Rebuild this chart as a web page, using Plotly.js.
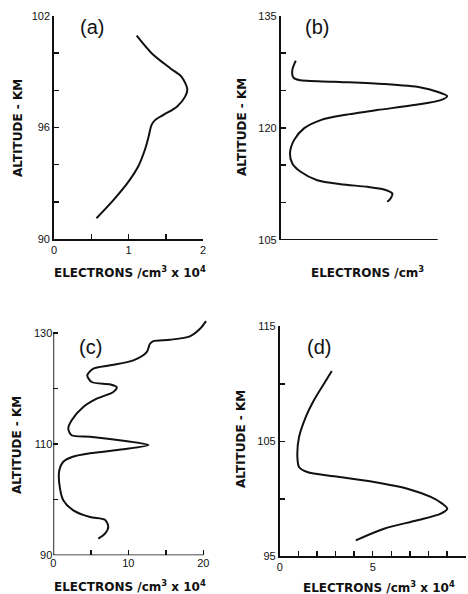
<!DOCTYPE html>
<html>
<head>
<meta charset="utf-8">
<script src="https://cdn.plot.ly/plotly-3.0.1.min.js"></script>
<style>html,body{margin:0;padding:0;background:#fff;}#chart{width:468px;height:594px;}</style>
</head>
<body>
<div id="chart"></div>
<script>
// Panel (a)
var aAltitude = [100.94, 100.0, 99.19, 98.74, 98.06, 97.66, 97.12, 96.68, 96.41, 96.14, 95.51, 94.80, 93.90, 93.09, 92.11, 91.12];
var aElectrons = [1.11, 1.31, 1.56, 1.71, 1.79, 1.76, 1.65, 1.47, 1.36, 1.31, 1.27, 1.22, 1.13, 1.00, 0.80, 0.57];
// Panel (b)
var bAltitude = [128.98, 127.73, 126.75, 126.39, 126.17, 125.86, 125.41, 124.83, 124.25, 123.71, 123.05, 122.38, 121.71, 121.04, 119.93, 118.36, 116.58, 115.24, 114.12, 113.0, 112.47, 112.11, 111.76, 111.22, 110.55, 110.1];
var bElectrons = [0.96, 0.74, 0.80, 1.17, 3.39, 6.58, 8.92, 9.97, 10.6, 10.19, 8.49, 6.15, 4.03, 2.55, 1.48, 0.85, 0.59, 0.74, 1.27, 2.33, 3.82, 5.52, 6.58, 7.11, 7.0, 6.79];
// Panel (c)
var cAltitude = [132.16, 130.77, 129.4, 128.8, 128.56, 128.08, 126.58, 125.09, 124.19, 123.58, 122.39, 121.19, 120.77, 120.29, 119.39, 118.18, 116.69, 114.30, 112.79, 111.6, 111.34, 110.62, 109.84, 109.07, 108.35, 107.7, 106.8, 105.3, 102.9, 99.9, 98.1, 96.9, 96.4, 95.1, 93.9, 93.0];
var cElectrons = [20.36, 19.56, 18.2, 15.56, 13.33, 12.89, 12.45, 10.67, 7.56, 5.33, 4.53, 5.12, 7.56, 8.45, 8.0, 5.79, 4.0, 2.45, 2.0, 2.45, 4.89, 9.33, 12.67, 9.33, 4.89, 2.5, 1.3, 0.8, 0.8, 1.33, 2.67, 4.89, 6.89, 7.33, 6.89, 6.0];
// Panel (d)
var dAltitude = [111.11, 110.01, 108.57, 107.11, 105.37, 103.63, 102.77, 102.33, 101.96, 101.46, 100.88, 100.16, 99.58, 99.14, 98.71, 98.13, 97.40, 96.39];
var dElectrons = [2.80, 2.38, 1.84, 1.40, 1.04, 0.95, 1.04, 1.48, 2.92, 5.07, 6.86, 8.12, 8.74, 9.01, 8.66, 7.40, 5.61, 4.09];

// Labelled ticks and unlabelled (minor) ticks
var aXTicks = [0, 1, 2], aXMinor = [0.5, 1.5];
var aYTicks = [90, 96, 102], aYMinor = [92, 94, 98, 100];
var bYTicks = [105, 120, 135], bYMinor = [110, 115, 125, 130];
var cXTicks = [0, 10, 20], cXMinor = [5, 15];
var cYTicks = [90, 110, 130], cYMinor = [100, 120];
var dXTicks = [0, 5, 10], dXMinor = [1, 2, 3, 4, 6, 7, 8, 9];
var dYTicks = [95, 105, 115], dYMinor = [100, 110];

var panelLabels = ['(a)', '(b)', '(c)', '(d)'];
var yTitle = 'ALTITUDE - KM';
var xTitleScaled = 'ELECTRONS /cm<sup>3</sup> x 10<sup>4</sup>';
var xTitlePlain = 'ELECTRONS /cm<sup>3</sup>';

var W = 468, H = 594;
function px(x) { return x / W; }
function py(y) { return 1 - y / H; }

var lineStyle = {color: '#111', width: 2, shape: 'spline', smoothing: 0.8};
var traces = [
  {x: aElectrons, y: aAltitude, xaxis: 'x', yaxis: 'y', mode: 'lines', line: lineStyle},
  {x: bElectrons, y: bAltitude, xaxis: 'x2', yaxis: 'y2', mode: 'lines', line: lineStyle},
  {x: cElectrons, y: cAltitude, xaxis: 'x3', yaxis: 'y3', mode: 'lines', line: lineStyle},
  {x: dElectrons, y: dAltitude, xaxis: 'x4', yaxis: 'y4', mode: 'lines', line: lineStyle}
];

var tickFont = {family: 'Liberation Sans, Arial, sans-serif', size: 11, color: '#111'};
function axis(extra, minorVals) {
  var base = {
    showgrid: false, zeroline: false, showline: true, linecolor: '#111', linewidth: 1.8,
    ticks: 'inside', ticklen: 5, tickwidth: 1.5, tickcolor: '#111',
    tickmode: 'array', tickfont: tickFont, fixedrange: true, mirror: false
  };
  if (minorVals) {
    base.minor = {tickmode: 'array', tickvals: minorVals, ticks: 'inside', ticklen: 5, tickwidth: 1.5, tickcolor: '#111', showgrid: false};
  }
  for (var k in extra) base[k] = extra[k];
  return base;
}

var layout = {
  width: W, height: H,
  margin: {l: 0, r: 0, t: 0, b: 0},
  paper_bgcolor: '#fff', plot_bgcolor: 'rgba(0,0,0,0)',
  showlegend: false,
  xaxis: axis({domain: [px(54), px(203)], range: [0, 2], tickvals: aXTicks, anchor: 'y'}, aXMinor),
  yaxis: axis({domain: [py(239), py(16)], range: [90, 102], tickvals: aYTicks, anchor: 'x'}, aYMinor),
  xaxis2: axis({domain: [px(280.7), px(280.7 + 11 * 15.7)], range: [0, 11], showline: false, ticks: '', showticklabels: false, anchor: 'y2'}),
  yaxis2: axis({domain: [py(240), py(15.7)], range: [105, 135], tickvals: bYTicks, anchor: 'x2'}, bYMinor),
  xaxis3: axis({domain: [px(53.3), px(53.3 + 20.6 * 7.5)], range: [0, 20.6], showline: false, tickvals: cXTicks, anchor: 'y3'}, cXMinor),
  yaxis3: axis({domain: [py(555.3), py(555.3 - 42.5 * 5.556)], range: [90, 132.5], showline: false, tickvals: cYTicks, anchor: 'x3'}, cYMinor),
  xaxis4: axis({domain: [px(279.7), px(465.7)], range: [0, 10], tickvals: dXTicks, anchor: 'y4'}, dXMinor),
  yaxis4: axis({domain: [py(556.3), py(326.3)], range: [95, 115], tickvals: dYTicks, anchor: 'x4'}, dYMinor),
  shapes: [
    {type: 'line', xref: 'x2', yref: 'y2', x0: 0, x1: 10, y0: 105, y1: 105, line: {color: '#111', width: 1.8}},
    {type: 'line', xref: 'x3', yref: 'y3', x0: 0, x1: 20, y0: 90, y1: 90, line: {color: '#111', width: 1.8}},
    {type: 'line', xref: 'x3', yref: 'y3', x0: 0, x1: 0, y0: 90, y1: 130, line: {color: '#111', width: 1.8}}
  ],
  annotations: []
};

var titleFont = {family: 'DejaVu Sans, sans-serif', size: 12, color: '#111', weight: 'bold'};
var labelFont = {family: 'Liberation Sans, Arial, sans-serif', size: 20, color: '#111'};
function ann(text, x, y, font, angle) {
  layout.annotations.push({text: text, xref: 'paper', yref: 'paper', x: px(x), y: py(y),
    xanchor: 'center', yanchor: 'middle', showarrow: false, font: font, textangle: angle || 0});
}
ann(panelLabels[0], 92, 27, labelFont);
ann(panelLabels[1], 317, 27, labelFont);
ann(panelLabels[2], 90, 347, labelFont);
ann(panelLabels[3], 319, 347, labelFont);
ann(yTitle, 18, 128, titleFont, -90);
ann(yTitle, 242, 127, titleFont, -90);
ann(yTitle, 17, 445, titleFont, -90);
ann(yTitle, 241, 439, titleFont, -90);
ann(xTitleScaled, 130, 272.5, titleFont);
ann(xTitlePlain, 367, 272.5, titleFont);
ann(xTitleScaled, 130, 585.5, titleFont);
ann(xTitleScaled, 379, 587, titleFont);

Plotly.newPlot('chart', traces, layout, {displayModeBar: false, staticPlot: true});
</script>
</body>
</html>
